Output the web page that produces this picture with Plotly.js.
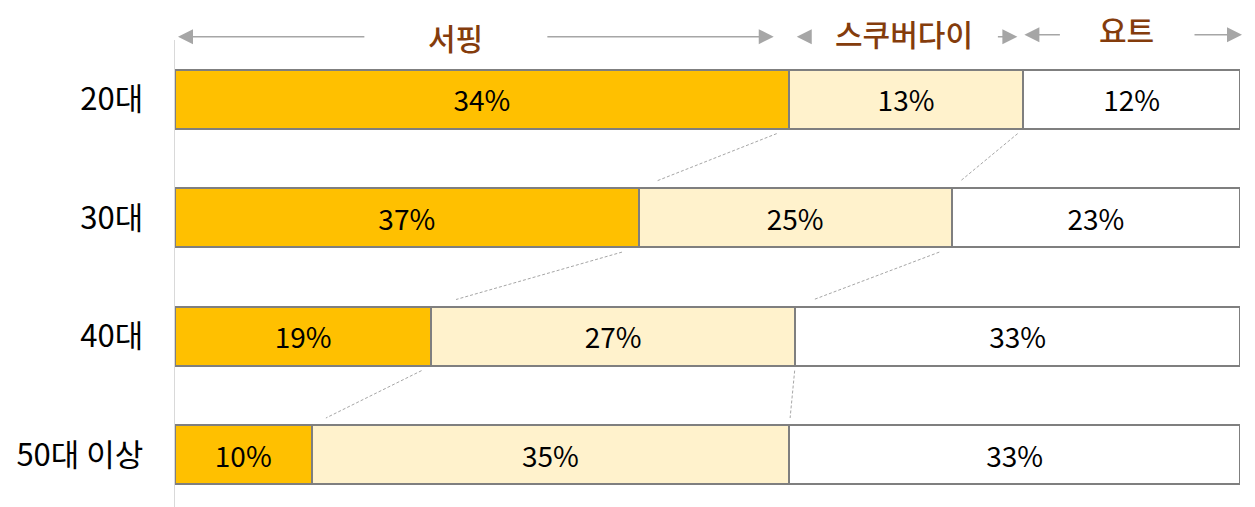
<!DOCTYPE html>
<html>
<head>
<meta charset="utf-8">
<script src="https://cdn.plot.ly/plotly-3.0.1.min.js"></script>
<style>body{margin:0;background:#fff}</style>
</head>
<body>
<div id="chart" style="width:1255px;height:507px"></div>
<script>
var ages = ['20대', '30대', '40대', '50대 이상'];
var surfing = [34, 37, 19, 10];
var scuba = [13, 25, 27, 35];
var yacht = [12, 23, 33, 33];
var groups = ['서핑', '스쿠버다이', '요트'];

var font = 'Noto Sans CJK KR, Noto Sans, sans-serif';
var rows = ages.map(function(a, i){ return i; });

function barTrace(vals, color){
    return {
        y: rows,
        x: vals,
        type: 'bar',
        orientation: 'h',
        width: 0.5,
        text: vals.map(function(v){ return v + '%'; }),
        textposition: 'inside',
        insidetextanchor: 'middle',
        textfont: {family: font, size: 28, color: '#000'},
        marker: {color: color, line: {color: '#7F7F7F', width: 2}},
        hoverinfo: 'skip'
    };
}

// boundaries of each row in percent of the row total
var edges = rows.map(function(i){
    var tot = surfing[i] + scuba[i] + yacht[i];
    return [0, surfing[i] / tot * 100, (surfing[i] + scuba[i]) / tot * 100, 100];
});

// dashed connectors between the bars
var cx = [], cy = [];
for (var i = 0; i < rows.length - 1; i++) {
    [1, 2].forEach(function(k){
        var x0 = edges[i][k], x1 = edges[i + 1][k];
        var y0 = i + 0.25, y1 = i + 0.75;
        var t0 = 0.08, t1 = 0.88;
        cx.push(x0 + (x1 - x0) * t0, x0 + (x1 - x0) * t1, null);
        cy.push(y0 + (y1 - y0) * t0, y0 + (y1 - y0) * t1, null);
    });
}
var connectors = {
    x: cx, y: cy,
    type: 'scatter', mode: 'lines',
    line: {color: '#A6A6A6', width: 1, dash: '3px,2px'},
    hoverinfo: 'skip', showlegend: false
};

var data = [barTrace(surfing, '#FFC000'), barTrace(scuba, '#FFF2CC'), barTrace(yacht, '#FFFFFF'), connectors];

// header over the first row
var e = edges[0];
var px = function(n){ return n / 10.65; };
var headY = 1.007;
function arrow(tip, tail, y){
    return {x: tip, y: y, xref: 'x', yref: 'paper', ax: tail, ay: 0, axref: 'x', ayref: 'pixel',
            text: '', showarrow: true, arrowhead: 2, arrowsize: 2, arrowwidth: 1.5,
            arrowcolor: '#A6A6A6', standoff: 0, startstandoff: 0};
}
function label(txt, x, y){
    return {x: x, y: y, xref: 'x', yref: 'paper', text: txt, showarrow: false,
            font: {family: font, size: 30, color: '#843C0C', weight: 500}, xanchor: 'center', yanchor: 'middle'};
}
var c0 = (e[0] + e[1]) / 2 - px(26);
var c1 = (e[1] + e[2]) / 2 - px(2);
var c2 = (e[2] + e[3]) / 2 - px(5);
var annotations = [
    label(groups[0], c0, headY),
    arrow(e[0] + px(3), c0 - px(90), headY),
    arrow(e[1] - px(15), c0 + px(90), headY),
    label(groups[1], c1, headY + 0.008),
    arrow(e[1] + px(8), e[1] + px(22), headY),
    arrow(e[2] - px(6), e[2] - px(27), headY),
    label(groups[2], c2, headY + 0.016),
    arrow(e[2] + px(1), e[2] + px(38), headY + 0.004),
    arrow(e[3] + px(2), e[3] - px(47), headY + 0.004)
];

var layout = {
    width: 1255,
    height: 507,
    margin: {l: 175, r: 15, t: 40, b: 0},
    barmode: 'stack',
    barnorm: 'percent',
    showlegend: false,
    paper_bgcolor: '#fff',
    plot_bgcolor: '#fff',
    xaxis: {range: [0, 100], visible: false, fixedrange: true},
    yaxis: {
        range: [3.441, -0.5],
        tickvals: rows,
        ticktext: ages,
        showgrid: false,
        zeroline: false,
        showline: true,
        linecolor: '#D9D9D9',
        linewidth: 1.5,
        ticks: '',
        ticklabelstandoff: 24,
        tickfont: {family: font, size: 31, color: '#000'}
    },
    annotations: annotations
};

Plotly.newPlot('chart', data, layout, {displayModeBar: false, staticPlot: true});
</script>
</body>
</html>
